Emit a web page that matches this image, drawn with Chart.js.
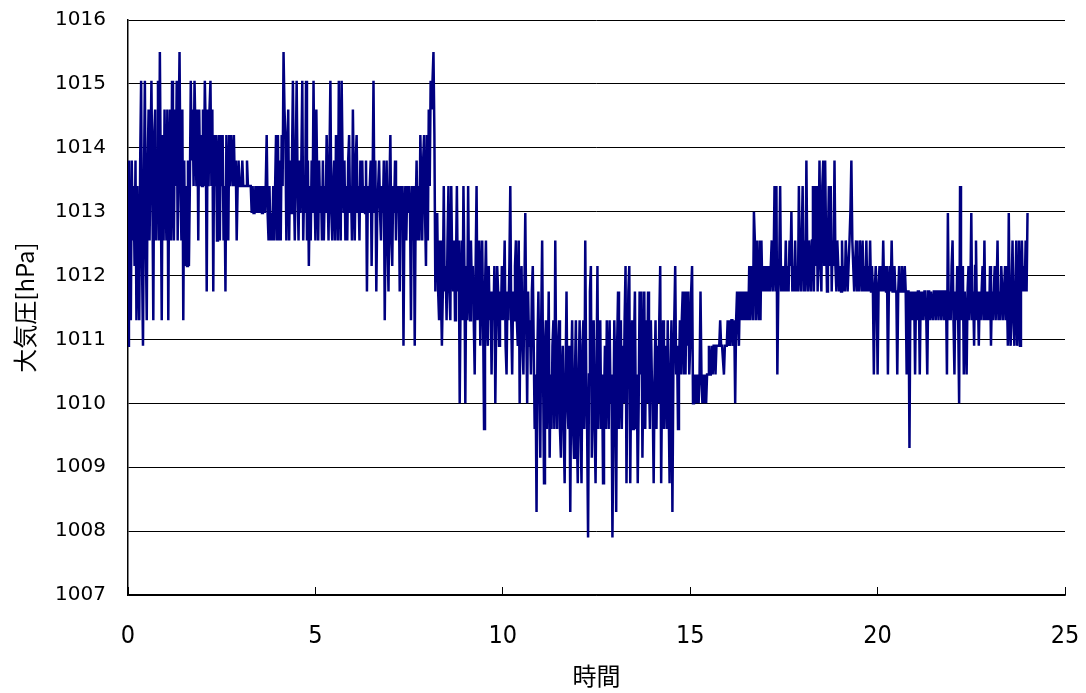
<!DOCTYPE html>
<html>
<head>
<meta charset="utf-8">
<script src="https://cdn.jsdelivr.net/npm/chart.js@4/dist/chart.umd.min.js"></script>
<style>
html,body{margin:0;padding:0;background:#fff;}
#wrap{width:1086px;height:693px;}
</style>
</head>
<body>
<div id="wrap"><canvas id="c" width="1086" height="693"></canvas></div>
<script>
// sampling: one reading every 0.025 h (1.5 min), starting at 0 h
const startHour = 0;
const stepHours = 0.025;

// barometric pressure [hPa], one row per hour (40 readings each) + final reading
const pressure = [
  1010.9,1013.8,1012.15,1011.3,1013.8,1012.55,1013.4,1012.15,1013.8,1011.3, 1013.4,1012.15,1011.3,1013.8,1015.05,1012.15,1010.9,1013.4,1015.05,1012.55, 1011.3,1013.8,1014.6,1012.55,1013.8,1015.05,1013.4,1011.3,1014.2,1014.6, 1012.55,1013.8,1015.05,1012.55,1015.5,1013.4,1011.3,1014.2,1012.55,1014.6,
  1013.4,1012.55,1014.6,1011.3,1013.8,1014.6,1012.55,1015.05,1013.4,1012.55, 1014.6,1013.4,1015.05,1012.55,1014.2,1015.5,1013.4,1012.55,1014.6,1011.3, 1013.8,1012.15,1013.4,1012.15,1013.8,1012.15,1013.4,1015.05,1013.8,1014.6, 1013.4,1015.05,1014.2,1013.4,1014.6,1012.55,1014.6,1013.4,1014.2,1013.4,
  1014.6,1013.4,1015.05,1014.2,1011.75,1014.6,1013.4,1014.6,1015.05,1013.4, 1014.6,1011.75,1014.2,1013.4,1014.2,1012.55,1013.8,1014.2,1012.55,1014.2, 1013.4,1014.2,1012.55,1013.4,1011.75,1014.2,1013.4,1012.55,1014.2,1013.4, 1014.2,1013.8,1013.4,1014.2,1013.4,1013.8,1012.55,1013.4,1013.8,1013.4,
  1013.4,1013.4,1013.8,1013.4,1013.4,1013.4,1013.4,1013.8,1013.4,1013.4, 1013.4,1013.4,1012.98,1013.4,1012.98,1012.98,1013.4,1012.98,1013.4,1012.98, 1013.4,1012.98,1013.4,1012.98,1012.98,1013.4,1012.98,1013.4,1014.2,1012.98, 1012.55,1013.4,1012.55,1012.98,1012.55,1013.4,1012.55,1013.4,1014.2,1012.55,
  1014.2,1012.55,1013.8,1012.55,1014.2,1013.4,1015.5,1014.6,1014.2,1012.55, 1013.8,1014.6,1012.55,1013.8,1012.98,1013.8,1015.05,1013.4,1012.55,1013.8, 1015.05,1013.4,1012.55,1013.8,1012.98,1013.8,1015.05,1012.55,1013.4,1012.98, 1015.05,1012.55,1013.8,1012.15,1013.4,1012.55,1013.8,1012.98,1015.05,1013.4,
  1012.55,1014.6,1013.4,1012.55,1013.8,1012.98,1013.4,1012.55,1013.8,1012.55, 1013.4,1012.98,1014.2,1013.4,1012.55,1013.8,1015.05,1012.98,1012.55,1013.4, 1013.8,1012.55,1014.2,1013.4,1012.55,1015.05,1013.4,1012.55,1015.05,1013.8, 1012.98,1013.8,1012.55,1013.4,1012.55,1013.8,1014.2,1012.98,1013.4,1012.55,
  1014.6,1013.4,1012.55,1013.8,1014.2,1012.98,1013.4,1012.55,1013.8,1012.98, 1013.8,1012.98,1013.4,1012.98,1013.8,1011.75,1013.4,1012.98,1013.4,1013.8, 1012.15,1013.4,1015.05,1012.98,1013.8,1011.75,1012.98,1013.4,1013.8,1012.98, 1012.55,1013.4,1012.98,1013.8,1011.3,1012.98,1013.8,1012.55,1011.75,1013.4,
  1014.2,1012.55,1012.15,1013.4,1012.98,1013.8,1012.55,1013.4,1012.98,1013.4, 1011.75,1013.4,1012.98,1013.4,1010.9,1012.98,1013.4,1012.55,1013.4,1012.98, 1013.4,1012.98,1011.3,1013.4,1012.55,1013.4,1010.9,1012.98,1013.8,1012.55, 1013.4,1012.55,1014.2,1013.4,1012.55,1013.8,1014.2,1012.98,1012.15,1014.2,
  1012.55,1014.6,1013.4,1015.05,1014.6,1015.05,1015.5,1014.2,1011.75,1012.55, 1012.98,1011.75,1011.3,1012.55,1011.75,1010.9,1011.75,1013.4,1011.75,1012.15, 1011.3,1012.55,1013.4,1011.75,1011.3,1013.4,1012.15,1011.75,1012.55,1011.3, 1012.15,1013.4,1011.75,1012.55,1010.0,1011.75,1012.55,1011.3,1013.4,1012.15,
  1010.0,1012.15,1011.3,1013.4,1011.75,1011.3,1012.55,1011.75,1012.15,1011.3, 1010.45,1012.15,1013.4,1011.3,1011.75,1012.55,1010.9,1011.75,1012.55,1011.3, 1009.6,1011.75,1012.55,1011.3,1010.9,1012.15,1011.3,1011.75,1010.45,1011.75, 1011.3,1012.15,1010.0,1011.3,1012.15,1011.75,1010.9,1011.75,1011.3,1012.15,
  1011.3,1011.75,1012.55,1010.9,1010.45,1011.75,1011.3,1012.15,1013.4,1011.3, 1010.45,1011.75,1011.3,1012.15,1012.55,1011.3,1010.9,1012.55,1010.0,1011.75, 1012.15,1010.9,1010.45,1011.75,1012.98,1011.3,1010.0,1011.75,1010.9,1011.3, 1010.45,1011.75,1012.15,1010.9,1009.6,1010.45,1008.3,1010.9,1011.75,1010.45,
  1009.15,1011.3,1012.55,1010.45,1008.75,1010.9,1011.3,1009.6,1010.45,1011.75, 1009.15,1010.45,1009.6,1010.9,1011.3,1009.6,1012.55,1010.45,1009.6,1010.9, 1011.3,1009.6,1009.15,1010.45,1010.9,1009.6,1008.75,1010.45,1011.75,1010.0, 1009.6,1010.9,1008.3,1010.45,1011.3,1009.6,1009.15,1010.45,1011.3,1009.6,
  1008.75,1010.45,1011.3,1009.6,1008.75,1010.9,1011.3,1009.6,1012.55,1010.45, 1009.6,1007.9,1010.45,1011.75,1012.15,1009.15,1010.45,1011.3,1009.6,1008.75, 1010.45,1012.15,1009.6,1010.9,1011.3,1009.6,1010.45,1008.75,1010.0,1010.9, 1009.6,1011.3,1010.45,1009.6,1011.3,1010.0,1010.45,1007.9,1009.6,1011.3,
  1010.45,1008.3,1010.9,1011.75,1009.6,1010.45,1011.3,1009.6,1010.9,1010.0, 1011.3,1012.15,1008.75,1010.45,1011.75,1012.15,1008.75,1010.45,1011.3,1009.6, 1010.9,1011.75,1009.6,1010.45,1008.75,1010.0,1011.75,1010.45,1011.75,1009.15, 1010.45,1011.75,1009.6,1011.3,1010.0,1011.75,1010.45,1009.6,1011.3,1010.45,
  1010.0,1008.75,1010.45,1011.3,1009.6,1010.9,1010.0,1011.3,1012.15,1008.75, 1010.45,1011.3,1009.6,1010.45,1010.9,1009.6,1011.3,1010.0,1008.75,1010.45, 1011.3,1008.3,1010.45,1011.3,1012.15,1010.45,1010.9,1009.6,1010.45,1011.3, 1010.45,1011.3,1011.75,1010.45,1011.75,1010.45,1011.75,1010.9,1011.75,1010.45,
  1010.9,1011.75,1012.15,1010.0,1010.45,1010.0,1010.45,1010.0,1010.45,1010.0, 1010.45,1011.75,1010.45,1010.0,1010.45,1010.0,1010.45,1010.0,1010.45,1010.45, 1010.9,1010.45,1010.45,1010.9,1010.45,1010.9,1010.9,1010.45,1010.9,1010.9, 1010.9,1010.9,1011.3,1010.9,1010.9,1010.9,1010.45,1010.9,1010.9,1010.9,
  1011.3,1010.9,1011.3,1010.9,1011.3,1011.3,1010.9,1011.3,1010.0,1011.3, 1011.75,1011.3,1010.9,1011.75,1011.3,1011.75,1011.3,1011.75,1011.3,1011.75, 1011.3,1011.75,1011.3,1012.15,1011.3,1012.15,1011.75,1011.3,1013.0,1012.55, 1011.3,1012.55,1011.75,1011.3,1012.55,1011.3,1012.55,1011.75,1012.15,1011.75,
  1012.15,1011.75,1012.15,1011.75,1012.15,1011.75,1012.15,1012.55,1011.75,1012.15, 1013.4,1011.75,1013.4,1010.45,1011.75,1012.15,1013.4,1011.75,1012.15,1011.75, 1012.15,1011.75,1012.55,1011.75,1012.15,1011.75,1012.55,1012.15,1013.0,1011.75, 1012.15,1011.75,1012.55,1011.75,1012.15,1011.75,1013.4,1012.15,1011.75,1012.55,
  1013.4,1011.75,1012.55,1011.75,1013.8,1012.15,1011.75,1012.55,1012.15,1011.75, 1012.55,1013.4,1011.75,1013.4,1012.15,1013.4,1011.75,1012.55,1013.8,1012.15, 1011.75,1013.4,1013.8,1012.15,1013.8,1012.55,1011.75,1012.55,1013.4,1012.15, 1013.4,1011.75,1012.55,1012.15,1013.8,1012.15,1011.75,1012.55,1012.15,1011.75,
  1012.15,1011.75,1012.55,1011.75,1012.15,1011.75,1012.55,1012.15,1011.75,1012.15, 1012.55,1013.0,1013.8,1012.55,1012.15,1011.75,1012.15,1012.55,1011.75,1012.15, 1011.75,1012.55,1012.15,1011.75,1012.55,1011.75,1012.15,1011.75,1012.55,1011.75, 1012.15,1011.75,1012.55,1011.75,1012.15,1011.75,1010.45,1011.75,1012.15,1011.75,
  1010.45,1011.75,1012.15,1011.75,1012.15,1011.75,1012.55,1011.75,1012.15,1011.75, 1012.15,1010.45,1011.75,1012.15,1011.75,1012.55,1011.75,1011.75,1012.15,1011.75, 1011.75,1010.45,1011.75,1012.15,1011.75,1011.75,1012.15,1011.75,1011.75,1012.15, 1011.75,1010.45,1011.75,1011.75,1009.3,1011.75,1011.3,1011.75,1011.3,1011.75,
  1010.45,1011.75,1011.3,1011.75,1011.75,1010.45,1011.75,1011.3,1011.75,1011.3, 1011.75,1011.75,1011.3,1010.45,1011.75,1011.75,1011.3,1011.75,1011.75,1011.3, 1011.75,1011.75,1011.3,1011.75,1011.75,1011.3,1011.75,1011.75,1011.3,1011.75, 1011.75,1011.3,1011.75,1011.75,1010.45,1012.98,1011.3,1011.75,1011.3,1012.15,
  1012.55,1011.3,1010.45,1011.75,1011.3,1012.15,1011.3,1010.0,1013.4,1011.75, 1011.3,1012.15,1010.45,1011.75,1011.3,1010.45,1011.75,1012.15,1011.3,1011.75, 1012.98,1011.3,1011.75,1010.9,1012.15,1012.55,1011.3,1011.75,1010.9,1011.75, 1011.3,1011.75,1012.15,1011.3,1012.55,1011.3,1011.75,1011.3,1011.75,1011.3,
  1012.15,1010.9,1011.75,1011.3,1011.75,1012.15,1011.3,1011.75,1012.55,1011.3, 1011.75,1011.3,1012.15,1011.75,1011.3,1011.75,1012.15,1011.3,1011.75,1010.9, 1012.98,1011.3,1010.9,1011.75,1012.55,1011.3,1010.9,1011.75,1012.55,1010.9, 1011.3,1012.55,1010.9,1011.75,1012.55,1011.75,1012.15,1011.75,1012.55,1011.75,
  1012.98
];

const xTicks = [0, 5, 10, 15, 20, 25];
const yMin = 1007, yMax = 1016;
const xTitle = '時間';
const yTitle = '大気圧[hPa]';

const points = pressure.map((v, i) => ({ x: startHour + i * stepHours, y: v }));

const tickFontX = { family: "'Liberation Sans Narrow','DejaVu Sans Condensed','Liberation Sans',sans-serif", size: 25 };
const tickFontY = { family: "'DejaVu Sans',sans-serif", size: 20 };
const titleFont = { family: "'Noto Sans CJK JP',sans-serif", size: 24 };

new Chart(document.getElementById('c'), {
  type: 'line',
  data: {
    datasets: [{
      data: points,
      borderColor: '#000080',
      borderWidth: 2.5,
      pointRadius: 0,
      tension: 0,
      fill: false
    }]
  },
  options: {
    responsive: false,
    animation: false,
    devicePixelRatio: 1,
    layout: { padding: { left: 0, right: 21, top: 20, bottom: 0 } },
    plugins: { legend: { display: false }, tooltip: { enabled: false } },
    scales: {
      x: {
        type: 'linear',
        min: 0, max: 25,
        afterBuildTicks: s => { s.ticks = xTicks.map(v => ({ value: v })); },
        afterFit: s => { s.height = 98; s.paddingLeft = 0; s.paddingRight = 0; },
        grid: { display: true, drawOnChartArea: false, drawTicks: true, tickLength: -8, color: '#000', lineWidth: 1 },
        border: { display: true, color: '#000', width: 1.5 },
        ticks: { color: '#000', font: tickFontX, padding: 34, maxRotation: 0, callback: v => String(v) },
        title: { display: true, text: xTitle, color: '#000', font: titleFont, padding: { top: 0, bottom: 3 } }
      },
      y: {
        min: yMin, max: yMax,
        ticks: { stepSize: 1, color: '#000', font: tickFontY, padding: 22, callback: v => String(v) },
        afterFit: s => { s.width = 128; s.paddingTop = 0; s.paddingBottom = 0; },
        grid: { color: '#000', lineWidth: 1, drawTicks: false },
        border: { display: true, color: '#000', width: 1.5 },
        title: { display: true, text: yTitle, color: '#000', font: titleFont, padding: { top: 10, bottom: 0 } }
      }
    }
  }
});
</script>
</body>
</html>
